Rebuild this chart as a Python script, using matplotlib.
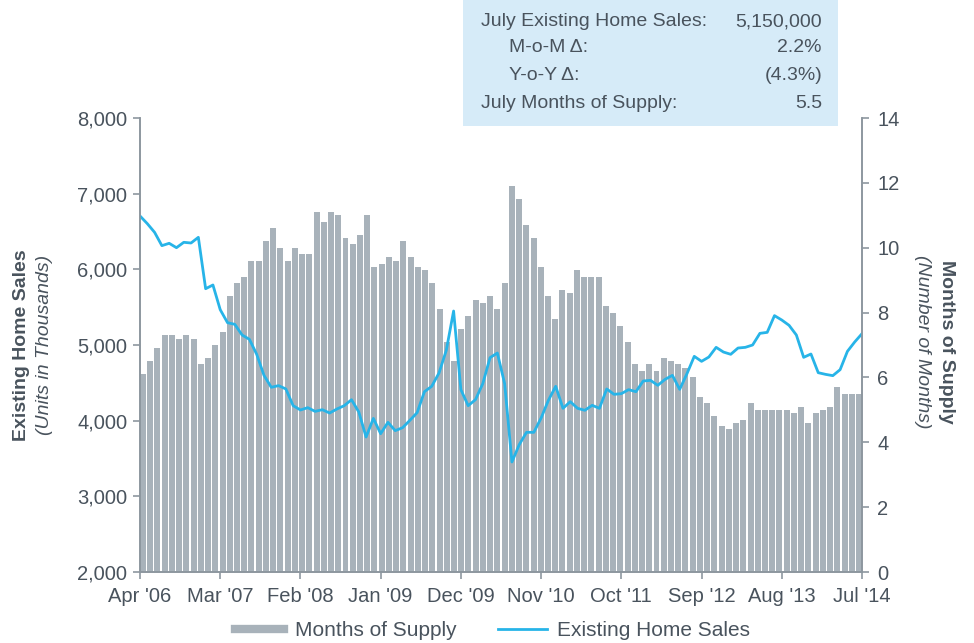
import matplotlib
matplotlib.use("Agg")
import matplotlib.pyplot as plt
from matplotlib.lines import Line2D
from matplotlib.patches import Rectangle
import numpy as np

plt.rcParams['font.family'] = ['Liberation Sans', 'DejaVu Sans']

# ---- data (monthly, Apr 2006 - Jul 2014) ----
tick_labels = ["Apr '06", "Mar '07", "Feb '08", "Jan '09", "Dec '09",
               "Nov '10", "Oct '11", "Sep '12", "Aug '13", "Jul '14"]

home_sales = [6705, 6604, 6489, 6313, 6344, 6286, 6357, 6348, 6423, 5744,
              5793, 5467, 5295, 5273, 5132, 5075, 4877, 4599, 4441, 4463,
              4419, 4198, 4141, 4172, 4123, 4145, 4101, 4154, 4198, 4277,
              4115, 3784, 4030, 3828, 3978, 3868, 3907, 4004, 4106, 4383,
              4454, 4630, 4930, 5449, 4410, 4198, 4278, 4489, 4833, 4894,
              4489, 3454, 3683, 3846, 3846, 4035, 4269, 4454, 4163, 4251,
              4163, 4137, 4203, 4163, 4419, 4348, 4357, 4410, 4383, 4524,
              4533, 4467, 4546, 4599, 4414, 4621, 4850, 4784, 4841, 4969,
              4907, 4877, 4960, 4969, 5000, 5154, 5167, 5388, 5330, 5260,
              5132, 4837, 4881, 4634, 4612, 4595, 4674, 4916, 5040, 5150]

months_supply = [6.1, 6.5, 6.9, 7.3, 7.3, 7.2, 7.3, 7.2, 6.4, 6.6,
                 7.0, 7.4, 8.5, 8.9, 9.1, 9.6, 9.6, 10.2, 10.6, 10.0,
                 9.6, 10.0, 9.8, 9.8, 11.1, 10.8, 11.1, 11.0, 10.3, 10.1,
                 10.4, 11.0, 9.4, 9.5, 9.7, 9.6, 10.2, 9.7, 9.4, 9.3,
                 8.9, 8.1, 7.1, 6.5, 7.5, 7.9, 8.4, 8.3, 8.5, 8.1,
                 8.9, 11.9, 11.5, 10.7, 10.3, 9.4, 8.5, 7.8, 8.7, 8.6,
                 9.3, 9.1, 9.1, 9.1, 8.2, 8.0, 7.6, 7.1, 6.4, 6.2,
                 6.4, 6.2, 6.6, 6.5, 6.4, 6.3, 6.0, 5.4, 5.2, 4.8,
                 4.5, 4.4, 4.6, 4.7, 5.2, 5.0, 5.0, 5.0, 5.0, 5.0,
                 4.9, 5.1, 4.6, 4.9, 5.0, 5.1, 5.7, 5.5, 5.5, 5.5]

box_labels = ["July Existing Home Sales:", "M-o-M \u0394:", "Y-o-Y \u0394:", "July Months of Supply:"]
box_values = ["5,150,000", "2.2%", "(4.3%)", "5.5"]
box_indent = [False, True, True, False]

# ---- style ----
BAR = '#A8B2BA'
LINE = '#27B4E8'
TXT = '#49535D'
SPINE = '#8D979F'
BOX = '#D6EBF8'

W, H = 974, 643
fig = plt.figure(figsize=(W / 100, H / 100), dpi=100)
L, R, T, B = 140, 862, 118, 572
ax = fig.add_axes([L / W, 1 - B / H, (R - L) / W, (B - T) / H])
ax2 = ax.twinx()

n = len(home_sales)
x = np.arange(n)
bw = 0.82
bar_left = x * (n - 1 - bw) / (n - 1)
ax2.bar(bar_left, months_supply, width=bw, align='edge', color=BAR, linewidth=0)
ax.plot(x, home_sales, color=LINE, lw=2.0, solid_joinstyle='round')

ax.set_zorder(ax2.get_zorder() + 1)
ax.patch.set_visible(False)

ax.set_xlim(0, n - 1)
ax.set_ylim(2000, 8000)
ax2.set_ylim(0, 14)
ax.set_yticks(np.arange(2000, 8001, 1000))
ax.set_yticklabels([f"{v:,}" for v in range(2000, 8001, 1000)])
ax2.set_yticks(np.arange(0, 15, 2))
ax.set_xticks(np.arange(0, n, 11))
ax.set_xticklabels(tick_labels)

for a in (ax, ax2):
    a.spines['top'].set_visible(False)
    for s in ('left', 'right', 'bottom'):
        a.spines[s].set_color(SPINE)
        a.spines[s].set_linewidth(1.2)
    a.tick_params(colors=SPINE, labelcolor=TXT, labelsize=14.5, length=5, width=1.2)
ax.tick_params(axis='x', pad=6)
ax.tick_params(axis='y', pad=4)
ax2.tick_params(axis='y', pad=6)

fig.text(22 / W, 1 - 345 / H, "Existing Home Sales", rotation=90, fontsize=14,
         fontweight='bold', color=TXT, ha='center', va='center')
fig.text(45 / W, 1 - 345 / H, "(Units in Thousands)", rotation=90, fontsize=14,
         style='italic', color=TXT, ha='center', va='center')
fig.text(947 / W, 1 - 342 / H, "Months of Supply", rotation=270, fontsize=14,
         fontweight='bold', color=TXT, ha='center', va='center')
fig.text(923 / W, 1 - 342 / H, "(Number of Months)", rotation=270, fontsize=14,
         style='italic', color=TXT, ha='center', va='center')

# info box
fig.patches.append(Rectangle((463 / W, 1 - 126 / H), (838 - 463) / W, 126 / H + 0.01,
                             transform=fig.transFigure, facecolor=BOX, edgecolor='none', zorder=0))
rows_y = [22, 48, 76, 104]
for lab, val, ind, yy in zip(box_labels, box_values, box_indent, rows_y):
    fig.text((509 if ind else 481) / W, 1 - yy / H, lab, fontsize=14, color=TXT,
             ha='left', va='center')
    fig.text(822 / W, 1 - yy / H, val, fontsize=14, color=TXT, ha='right', va='center')

handles = [Line2D([], [], color=BAR, lw=6), Line2D([], [], color=LINE, lw=2)]
fig.legend(handles, ["Months of Supply", "Existing Home Sales"], loc='center',
           bbox_to_anchor=(0.506, 1 - 631 / H), ncol=2, frameon=False, fontsize=15,
           handlelength=2.35, handletextpad=0.5, columnspacing=2.0, labelcolor=TXT,
           borderpad=0.2)

fig.savefig("out.png", dpi=100)
